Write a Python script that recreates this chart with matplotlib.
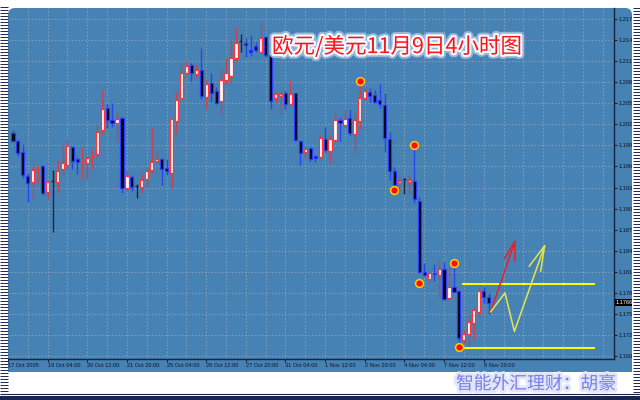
import matplotlib
matplotlib.use('Agg')
import matplotlib.pyplot as plt
import matplotlib.patheffects as pe
from matplotlib.patches import Rectangle, FancyBboxPatch

# ---------------- data (EUR/USD 4H candles) ----------------
opens = [1.2008, 1.1996, 1.1981, 1.1946, 1.1938, 1.1956, 1.1961, 1.1924, 1.1939, 1.1938,
         1.1956, 1.1962, 1.1988, 1.1971, 1.1965, 1.1965, 1.1973, 1.1978, 1.2012, 1.2043,
         1.2026, 1.2022, 1.2029, 1.1929, 1.1945, 1.1932, 1.1931, 1.1942, 1.1955, 1.1968,
         1.1971, 1.1958, 1.1951, 1.2025, 1.2058, 1.2093, 1.2104, 1.2092, 1.2097, 1.2059,
         1.2079, 1.2067, 1.2053, 1.2083, 1.2089, 1.2114, 1.2139, 1.2136, 1.2126, 1.2132,
         1.2123, 1.2144, 1.2119, 1.2058, 1.2060, 1.2065, 1.2049, 1.2065, 1.1996, 1.1981,
         1.1986, 1.1975, 1.1973, 1.1999, 1.1982, 1.1998, 1.2026, 1.2019, 1.2029, 1.2006,
         1.2025, 1.2058, 1.2066, 1.2062, 1.2055, 1.2048, 1.1999, 1.1954, 1.1936, 1.1942,
         1.1938, 1.1939, 1.1911, 1.1810, 1.1800, 1.1808, 1.1805, 1.1814, 1.1772, 1.1788,
         1.1783, 1.1713, 1.1721, 1.1737, 1.1753, 1.1783, 1.1774]
highs = [1.2012, 1.1999, 1.1992, 1.1951, 1.1964, 1.1961, 1.1962, 1.1939, 1.1955, 1.1969,
         1.1993, 1.1998, 1.1989, 1.1973, 1.1988, 1.1975, 1.1985, 1.2019, 1.2070, 1.2049,
         1.2050, 1.2039, 1.2030, 1.1954, 1.1948, 1.1935, 1.1949, 1.1959, 1.2015, 1.1982,
         1.1972, 1.1971, 1.2029, 1.2066, 1.2107, 1.2110, 1.2107, 1.2106, 1.2129, 1.2083,
         1.2093, 1.2073, 1.2097, 1.2114, 1.2143, 1.2159, 1.2149, 1.2143, 1.2147, 1.2137,
         1.2166, 1.2146, 1.2122, 1.2066, 1.2067, 1.2067, 1.2083, 1.2065, 1.1998, 1.1989,
         1.1988, 1.1976, 1.2005, 1.2016, 1.2005, 1.2036, 1.2029, 1.2042, 1.2040, 1.2038,
         1.2079, 1.2073, 1.2072, 1.2069, 1.2077, 1.2065, 1.2009, 1.1959, 1.1948, 1.1944,
         1.1948, 1.1988, 1.1917, 1.1823, 1.1811, 1.1821, 1.1827, 1.1824, 1.1817, 1.1821,
         1.1784, 1.1729, 1.1748, 1.1760, 1.1788, 1.1788, 1.1780]
lows = [1.1996, 1.1975, 1.1944, 1.1909, 1.1914, 1.1935, 1.1919, 1.1914, 1.1867, 1.1924,
        1.1948, 1.1956, 1.1956, 1.1949, 1.1942, 1.1942, 1.1956, 1.1973, 1.2005, 1.2015,
        1.2016, 1.1995, 1.1922, 1.1925, 1.1925, 1.1915, 1.1922, 1.1929, 1.1951, 1.1965,
        1.1934, 1.1948, 1.1929, 1.2006, 1.2056, 1.2090, 1.2082, 1.2086, 1.2056, 1.2042,
        1.2052, 1.2049, 1.2035, 1.2076, 1.2079, 1.2109, 1.2123, 1.2116, 1.2117, 1.2123,
        1.2122, 1.2116, 1.2042, 1.2050, 1.2035, 1.2042, 1.2048, 1.1996, 1.1962, 1.1971,
        1.1968, 1.1966, 1.1971, 1.1981, 1.1965, 1.1995, 1.1996, 1.2016, 1.2005, 1.1979,
        1.2013, 1.2055, 1.2052, 1.2050, 1.2043, 1.1980, 1.1941, 1.1929, 1.1925, 1.1921,
        1.1922, 1.1908, 1.1808, 1.1804, 1.1794, 1.1797, 1.1774, 1.1770, 1.1770, 1.1780,
        1.1709, 1.1709, 1.1703, 1.1713, 1.1746, 1.1766, 1.1750]
closes = [1.1996, 1.1979, 1.1948, 1.1936, 1.1955, 1.1958, 1.1922, 1.1938, 1.1939, 1.1954,
          1.1965, 1.1989, 1.1968, 1.1966, 1.1966, 1.1972, 1.1975, 1.2009, 1.2042, 1.2026,
          1.2022, 1.2028, 1.1929, 1.1946, 1.1931, 1.1932, 1.1941, 1.1954, 1.1966, 1.1971,
          1.1956, 1.1954, 1.2028, 1.2055, 1.2093, 1.2103, 1.2093, 1.2097, 1.2060, 1.2077,
          1.2065, 1.2050, 1.2083, 1.2093, 1.2114, 1.2136, 1.2139, 1.2133, 1.2123, 1.2126,
          1.2143, 1.2119, 1.2053, 1.2063, 1.2063, 1.2049, 1.2063, 1.1998, 1.1979, 1.1985,
          1.1971, 1.1972, 1.2001, 1.1983, 1.1999, 1.2026, 1.2022, 1.2028, 1.2008, 1.2026,
          1.2058, 1.2067, 1.2060, 1.2052, 1.2049, 1.2001, 1.1954, 1.1934, 1.1939, 1.1942,
          1.1941, 1.1914, 1.1810, 1.1805, 1.1808, 1.1807, 1.1814, 1.1771, 1.1788, 1.1781,
          1.1716, 1.1721, 1.1739, 1.1756, 1.1783, 1.1774, 1.1766]

time_tick_idx = [0, 8, 16, 24, 32, 40, 48, 56, 64, 72, 80, 88, 96]
time_labels = ["17 Oct 2005", "19 Oct 04:00", "20 Oct 12:00", "21 Oct 20:00",
               "25 Oct 04:00", "26 Oct 12:00", "27 Oct 20:00", "31 Oct 04:00",
               "1 Nov 12:00", "2 Nov 20:00", "4 Nov 04:00", "7 Nov 12:00",
               "8 Nov 20:00"]
price_ticks = [1.2170, 1.2140, 1.2110, 1.2080, 1.2050, 1.2020, 1.1990, 1.1960,
               1.1930, 1.1900, 1.1870, 1.1840, 1.1810, 1.1780, 1.1750, 1.1720, 1.1690]
vgrid_idx = [4, 8, 12, 16, 20, 24, 28, 32, 36, 40, 44, 48, 52, 56, 60, 64, 68, 72,
             76, 80, 84, 88, 92, 96, 100, 104, 108, 112, 116, 120]

signal_idx = [71, 78, 82, 83, 90, 91]
signal_price = [1.2082, 1.1927, 1.1990, 1.1794, 1.1823, 1.1703]

level_prices = [1.1793, 1.1702]
level_start = [91.7, 90.7]
level_end = [118.4, 118.5]

red_arrow_x = [97.4, 102.3]
red_arrow_y = [1.1753, 1.1853]
red_head_x = [100.2, 102.3, 102.3]
red_head_y = [1.1829, 1.1853, 1.1826]
yel_path_x = [97.4, 100.3, 102.2, 108.3]
yel_path_y = [1.1753, 1.1780, 1.1725, 1.1847]
yel_head_x = [105.2, 108.3, 107.5]
yel_head_y = [1.1818, 1.1847, 1.1811]

current_price = 1.1766
title_text = "欧元/美元11月9日4小时图"
mark_text = "智能外汇理财：胡豪"

# ---------------- style ----------------
BG = '#4682b4'
GRID = '#94a6bb'
AXC = '#18243c'
TXT = '#0b1426'
UP_BODY_EDGE = '#ff3535'
UP_WICK = '#c84452'
DN_BODY_EDGE = '#2a3cff'
DN_WICK = '#2447ee'
DOJI = '#1c2a3a'
NAVY = '#1a2550'
CJK = ['Noto Sans CJK SC', 'DejaVu Sans']

plt.rcParams['font.family'] = ['Liberation Sans', 'DejaVu Sans']

W, H = 640, 400
fig = plt.figure(figsize=(6.4, 4.0), dpi=100)
fig.patch.set_facecolor('white')

# background panel
bg = fig.add_axes([0, 0, 1, 1], zorder=0)
bg.set_xlim(0, W); bg.set_ylim(H, 0); bg.axis('off')
bg.add_patch(FancyBboxPatch((8, 8), 624, 364, boxstyle='round,pad=0,rounding_size=7',
                            fc=BG, ec='none'))
bg.add_patch(Rectangle((8, 340), 624, 32, fc=BG, ec='none'))

# main chart
ax = fig.add_axes([8 / W, 1 - 359 / H, 606 / W, 351 / H], zorder=1)
ax.set_facecolor('none')
ax.set_xlim(1.14, 122.3)
ax.set_ylim(1.16858, 1.21857)

for p in price_ticks:
    ax.axhline(p, color=GRID, lw=0.8, ls=(0, (1, 2)), zorder=0.5)
for i in vgrid_idx:
    ax.axvline(i, color=GRID, lw=0.8, ls=(0, (1, 2)), zorder=0.5)

bw = 0.64
for k in range(len(opens)):
    x = k + 1
    o, h, l, c = opens[k], highs[k], lows[k], closes[k]
    if abs(c - o) < 0.00005:
        ax.vlines(x, l, h, color=DOJI, lw=1.0, zorder=2)
        ax.hlines(o, x - bw / 2, x + bw / 2, color=DOJI, lw=1.0, zorder=2)
    elif c > o:
        ax.vlines(x, l, h, color=UP_WICK, lw=1.0, zorder=2)
        ax.add_patch(Rectangle((x - bw / 2, o), bw, c - o, fc='white',
                               ec=UP_BODY_EDGE, lw=0.9, zorder=3))
    else:
        ax.vlines(x, l, h, color=DN_WICK, lw=1.0, zorder=2)
        ax.add_patch(Rectangle((x - bw / 2, c), bw, o - c, fc='black',
                               ec=DN_BODY_EDGE, lw=0.9, zorder=3))

# support / resistance lines
for p, s, e in zip(level_prices, level_start, level_end):
    ax.hlines(p, s, e, color='#ffff00', lw=1.4, zorder=4)

# projection arrows
ax.plot(red_arrow_x, red_arrow_y, color='#e8202a', lw=1.1, zorder=4)
ax.plot(red_head_x, red_head_y, color='#e8202a', lw=1.1, zorder=4)
ax.plot(yel_path_x, yel_path_y, color='#e6e64a', lw=1.1, zorder=4)
ax.plot(yel_head_x, yel_head_y, color='#e6e64a', lw=1.1, zorder=4)

# fractal markers
ax.plot(signal_idx, signal_price, ls='none', marker='o', ms=5.6, mfc='#ff1010',
        mec='#ffcc00', mew=1.1, zorder=6)

# axes styling
for s in ['left', 'top']:
    ax.spines[s].set_visible(False)
for s in ['right', 'bottom']:
    ax.spines[s].set_color(AXC)
    ax.spines[s].set_linewidth(1.0)
ax.yaxis.tick_right()
ax.set_yticks(price_ticks)
ax.set_yticklabels([f"{p:.4f}" for p in price_ticks])
ax.set_xticks(time_tick_idx)
ax.set_xticklabels(time_labels, ha='left')
ax.tick_params(axis='both', length=2.0, width=0.8, color=AXC, labelsize=4.1,
               labelcolor=TXT, pad=1.0)

ax.text(1.003, current_price, f"{current_price:.4f}", transform=ax.get_yaxis_transform(),
        fontsize=4.1, color='white', va='center', ha='left', clip_on=False, zorder=7,
        bbox=dict(boxstyle='square,pad=0.2', fc='black', ec='none'))

# overlay frame
ov = fig.add_axes([0, 0, 1, 1], zorder=5)
ov.set_xlim(0, W); ov.set_ylim(H, 0); ov.axis('off'); ov.patch.set_alpha(0)
ov.add_patch(Rectangle((0, 0), 8, H, fc='white', ec='none'))
ov.add_patch(Rectangle((632, 0), 8, H, fc='white', ec='none'))
for y in range(7, 393, 3):
    ov.hlines(y, 0, 7.5, color=NAVY, lw=0.7)
for y in range(8, 393, 3):
    ov.hlines(y, 633, 640, color=NAVY, lw=0.7)
ov.hlines(393.5, 0, 640, color=NAVY, lw=0.8)
ov.add_patch(Rectangle((0, 396), 640, 4, fc=NAVY, ec='none'))

ov.text(272, 47, title_text, family=CJK, fontsize=15.5, color='#ff1414',
        ha='left', va='center', zorder=8,
        path_effects=[pe.Stroke(linewidth=6, foreground='#a9c4e4', alpha=0.8),
                      pe.Stroke(linewidth=3.2, foreground='#f4f8ff'),
                      pe.Normal()])
ov.text(456, 384, mark_text, family=CJK, fontsize=12.8, color='#7a7ee8',
        ha='left', va='center', zorder=8,
        path_effects=[pe.Stroke(linewidth=4, foreground='#e2e6fc'), pe.Normal()])

fig.savefig('out.png', dpi=100, facecolor='white')
